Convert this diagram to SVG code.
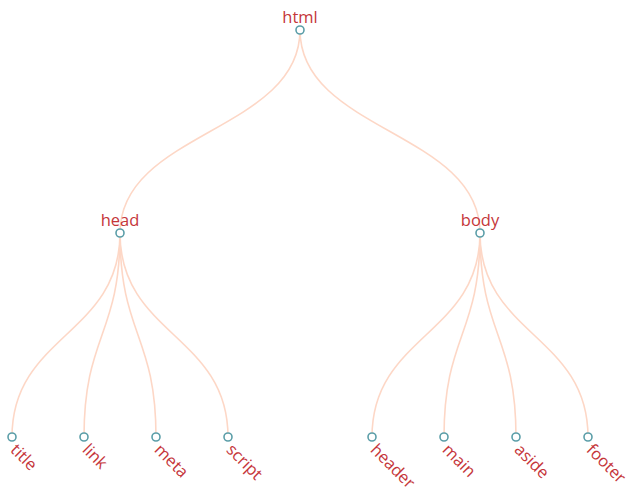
<svg xmlns="http://www.w3.org/2000/svg" width="636" height="492" viewBox="0 0 636 492">
<style>
.link{fill:none;stroke:#fdd7c6;stroke-width:1.6}
.node circle{fill:#fff;stroke:#5b9ea8;stroke-width:1.6}
.node text{font-family:"Open Sans","Noto Sans",sans-serif;font-size:16.5px;fill:#c5363a}
.top{text-anchor:middle}
.leaf{dominant-baseline:central}
</style>
<rect width="636" height="492" fill="#fff"/>
<g id="connectors">
<path class="link" d="M300,30 C300,131.5 120,131.5 120,233"/>
<path class="link" d="M300,30 C300,131.5 480,131.5 480,233"/>
<path class="link" d="M120,233 C120,335 12,335 12,437"/>
<path class="link" d="M120,233 C120,335 84,335 84,437"/>
<path class="link" d="M120,233 C120,335 156,335 156,437"/>
<path class="link" d="M120,233 C120,335 228,335 228,437"/>
<path class="link" d="M480,233 C480,335 372,335 372,437"/>
<path class="link" d="M480,233 C480,335 444,335 444,437"/>
<path class="link" d="M480,233 C480,335 516,335 516,437"/>
<path class="link" d="M480,233 C480,335 588,335 588,437"/>
</g>
<g id="html" class="node"><circle cx="300" cy="30" r="4"/><text class="top" x="300" y="23">html</text></g>
<g id="head" class="node"><circle cx="120" cy="233" r="4"/><text class="top" x="120" y="226">head</text></g>
<g id="body" class="node"><circle cx="480" cy="233" r="4"/><text class="top" x="480" y="226">body</text></g>
<g id="title" class="node"><circle cx="12" cy="437" r="4"/><text class="leaf" transform="translate(12,437) rotate(45)" x="8" y="5">title</text></g>
<g id="link" class="node"><circle cx="84" cy="437" r="4"/><text class="leaf" transform="translate(84,437) rotate(45)" x="8" y="5">link</text></g>
<g id="meta" class="node"><circle cx="156" cy="437" r="4"/><text class="leaf" transform="translate(156,437) rotate(45)" x="8" y="5">meta</text></g>
<g id="script" class="node"><circle cx="228" cy="437" r="4"/><text class="leaf" transform="translate(228,437) rotate(45)" x="8" y="5">script</text></g>
<g id="header" class="node"><circle cx="372" cy="437" r="4"/><text class="leaf" transform="translate(372,437) rotate(45)" x="8" y="5">header</text></g>
<g id="main" class="node"><circle cx="444" cy="437" r="4"/><text class="leaf" transform="translate(444,437) rotate(45)" x="8" y="5">main</text></g>
<g id="aside" class="node"><circle cx="516" cy="437" r="4"/><text class="leaf" transform="translate(516,437) rotate(45)" x="8" y="5">aside</text></g>
<g id="footer" class="node"><circle cx="588" cy="437" r="4"/><text class="leaf" transform="translate(588,437) rotate(45)" x="8" y="5">footer</text></g>
</svg>
